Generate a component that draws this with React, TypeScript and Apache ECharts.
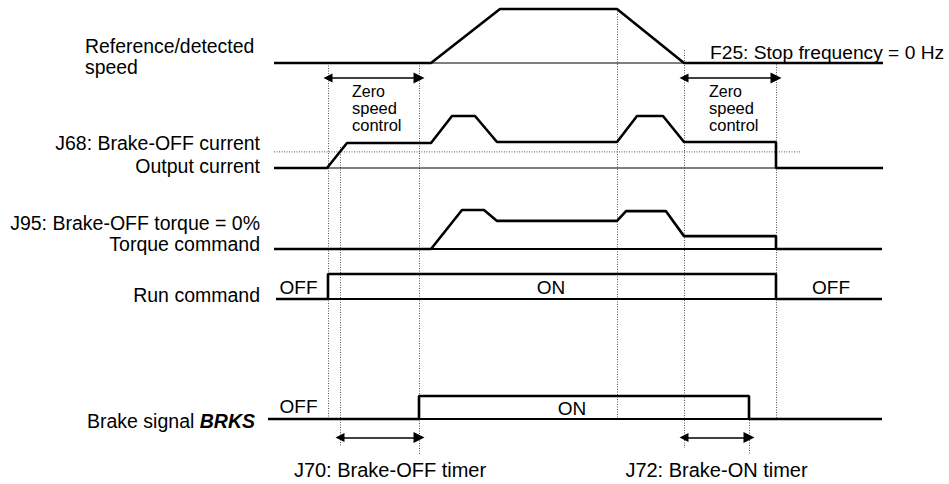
import React, { useEffect, useRef } from "react";
import * as echarts from "echarts";

// ---- time axis (arbitrary time units) ----
const T_MIN = 0;
const T_MAX = 949;

// ---- signal traces: [time, level %] ----
const speedTrace = [[274, 0], [431, 0], [500, 100], [617, 100], [684, 0], [883, 0]];
const speedAxis = [[274, 0], [883, 0]];

const currentTrace = [
  [274, 0], [327, 0], [347, 48], [431, 48], [452, 100], [475, 100], [497, 50],
  [617, 50], [637, 100], [663, 100], [684, 50], [776, 50], [776, 0], [883, 0],
];
const currentAxis = [[274, 0], [883, 0]];
const J68_LEVEL = 31;
const j68Line = [[274, J68_LEVEL], [800, J68_LEVEL]];

const torqueTrace = [
  [274, 0], [431, 0], [462, 100], [484, 100], [497, 72], [617, 72], [626, 97],
  [666, 97], [684, 33], [776, 33], [776, 0], [882, 0],
];
const torqueAxis = [[274, 0], [882, 0]];

const runTrace = [[276, 0], [328, 0], [328, 1], [776, 1], [776, 0], [882, 0]];
const runAxis = [[328, 0], [776, 0]];

const brakeTrace = [[268, 0], [419, 0], [419, 1], [749, 1], [749, 0], [882, 0]];
const brakeAxis = [[419, 0], [749, 0]];

// ---- event markers (time, vertical extent on the layout axis) ----
const eventMarkers = [
  { t: 328, from: 63, to: 418 },
  { t: 340, from: 147, to: 447 },
  { t: 419, from: 63, to: 455 },
  { t: 617, from: 9, to: 418 },
  { t: 684, from: 50, to: 448 },
  { t: 749, from: 420, to: 455 },
  { t: 776, from: 62, to: 418 },
];

// ---- interval arrows ----
const intervalArrows = [
  { from: 328, to: 419, row: 78 },
  { from: 684, to: 776, row: 78 },
  { from: 340, to: 419, row: 437.5 },
  { from: 684, to: 749, row: 437.5 },
];

const FONT = "'Liberation Sans', Arial, Helvetica, sans-serif";

type Band = { top: number; height: number; max: number };
const bands: Band[] = [
  { top: 9, height: 54, max: 100 }, // speed
  { top: 116, height: 52, max: 100 }, // current
  { top: 210, height: 39, max: 100 }, // torque
  { top: 274, height: 25, max: 1 }, // run
  { top: 396, height: 23, max: 1 }, // brake
];

function txt(
  text: string,
  x: number,
  y: number,
  size: number,
  align: "left" | "right" | "center",
  extra: any = {}
) {
  return {
    type: "text",
    x,
    y,
    silent: true,
    style: {
      text,
      x: 0,
      y: 0,
      fill: "#000",
      fontFamily: FONT,
      fontSize: size,
      align,
      verticalAlign: "middle",
      ...extra,
    },
  };
}

export default function App() {
  const ref = useRef<HTMLDivElement>(null);
  useEffect(() => {
    if (!ref.current) return;
    const chart = echarts.init(ref.current, undefined, { renderer: "svg" });

    const grids: any[] = bands.map((b) => ({
      left: 0,
      width: 949,
      top: b.top,
      height: b.height,
      containLabel: false,
    }));
    grids.push({ left: 0, width: 949, top: 0, height: 484 });

    const xAxes = grids.map((_, i) => ({
      type: "value",
      gridIndex: i,
      min: T_MIN,
      max: T_MAX,
      show: false,
    }));
    const yAxes: any[] = bands.map((b, i) => ({
      type: "value",
      gridIndex: i,
      min: 0,
      max: b.max,
      show: false,
    }));
    yAxes.push({ type: "value", gridIndex: 5, min: 0, max: 484, inverse: true, show: false });

    const thick = { color: "#000", width: 2.6 };
    const thin = { color: "#000", width: 1.1 };
    const mid = { color: "#000", width: 1.8 };

    const line = (idx: number, data: number[][], style: any, z = 3) => ({
      type: "line",
      xAxisIndex: idx,
      yAxisIndex: idx,
      data,
      symbol: "none",
      clip: false,
      silent: true,
      z,
      lineStyle: style,
    });

    const series: any[] = [
      line(0, speedAxis, thin, 2),
      line(0, speedTrace, thick),
      line(1, currentAxis, thin, 2),
      line(1, j68Line, { color: "#555", width: 1, type: [1, 1.5] }, 2),
      line(1, currentTrace, thick),
      line(2, torqueAxis, mid, 2),
      line(2, torqueTrace, thick),
      line(3, runAxis, mid, 2),
      line(3, runTrace, thick),
      line(4, brakeAxis, mid, 2),
      line(4, brakeTrace, thick),
      {
        type: "lines",
        coordinateSystem: "cartesian2d",
        xAxisIndex: 5,
        yAxisIndex: 5,
        silent: true,
        z: 1,
        symbol: "none",
        lineStyle: { color: "#555", width: 1, type: [1, 1.5], opacity: 1 },
        data: eventMarkers.map((m) => ({ coords: [[m.t, m.from], [m.t, m.to]] })),
      },
      {
        type: "lines",
        coordinateSystem: "cartesian2d",
        xAxisIndex: 5,
        yAxisIndex: 5,
        silent: true,
        z: 4,
        symbol: ["triangle", "triangle"],
        symbolSize: [9, 11],
        lineStyle: { color: "#000", width: 1.6, opacity: 1 },
        itemStyle: { color: "#000" },
        data: intervalArrows.map((a) => ({ coords: [[a.from, a.row], [a.to, a.row]] })),
      },
    ];

    const graphic: any[] = [
      txt("Reference/detected", 85, 46, 19.4, "left"),
      txt("speed", 85, 66.5, 19.4, "left"),
      txt("J68: Brake-OFF current", 260, 142.7, 19.5, "right"),
      txt("Output current", 260, 165.5, 19.5, "right"),
      txt("J95: Brake-OFF torque = 0%", 260, 223, 19.5, "right"),
      txt("Torque command", 260, 243.5, 19.5, "right"),
      txt("Run command", 260, 294.5, 19.5, "right"),
      txt("Brake signal {b|BRKS}", 255, 420.5, 19.5, "right", {
        rich: { b: { fontWeight: "bold", fontStyle: "italic", fontSize: 19.5, fontFamily: FONT, fill: "#000" } },
      }),
      txt("F25: Stop frequency = 0 Hz", 710, 52.7, 19.2, "left"),
      txt("Zero", 352, 91, 16, "left"),
      txt("speed", 352, 108, 16.5, "left"),
      txt("control", 352, 125, 16.5, "left"),
      txt("Zero", 709, 91, 16, "left"),
      txt("speed", 709, 108, 16.5, "left"),
      txt("control", 709, 125, 16.5, "left"),
      txt("OFF", 298.5, 287, 19, "center"),
      txt("ON", 551, 287, 19, "center"),
      txt("OFF", 831, 287, 19, "center"),
      txt("OFF", 298.5, 406, 19, "center"),
      txt("ON", 572, 408, 19, "center"),
      txt("J70: Brake-OFF timer", 390, 470, 20, "center"),
      txt("J72: Brake-ON timer", 716.5, 470, 20, "center"),
    ];

    chart.setOption({
      animation: false,
      backgroundColor: "#fff",
      grid: grids,
      xAxis: xAxes,
      yAxis: yAxes,
      series,
      graphic,
    });
    return () => chart.dispose();
  }, []);

  return (
    <div
      ref={ref}
      style={{ position: "fixed", left: 0, top: 0, width: 949, height: 484, background: "#fff" }}
    />
  );
}
